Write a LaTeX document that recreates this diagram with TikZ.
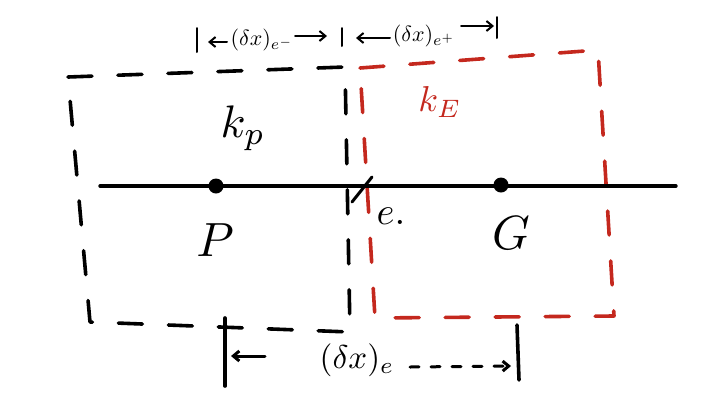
\documentclass[tikz,border=0pt]{standalone}
\usetikzlibrary{arrows.meta}
\definecolor{sketchred}{RGB}{196,40,30}
\begin{document}
\begin{tikzpicture}[x=1pt,y=-1pt,
  ink/.style={line width=3.6pt,line cap=round,line join=round},
  dashbox/.style={ink,dash pattern=on 24pt off 26pt},
  dot/.style={circle,fill=black,inner sep=0pt,minimum size=15pt},
  lbl/.style={inner sep=0pt,scale=4.8},
  dim/.style={inner sep=0pt,scale=2.2},
  arr/.style={ink,line width=2pt,-{Straight Barb[length=6pt,width=10pt]}}]
\useasboundingbox (0,0) rectangle (720,416);
% black control volume of P
\draw[dashbox] (68,77) -- (345,67) -- (350,332) -- (90,322) -- cycle;
% red control volume of E
\draw[dashbox,sketchred] (360,68) -- (598,50) -- (614,316) -- (375,318) -- cycle;
% axis
\coordinate (L) at (100,186);
\coordinate (R) at (676,186);
\draw[ink,line width=3.4pt] (L) -- (R);
\node[dot] (P) at (216,186) {};
\node[dot] (G) at (501,185) {};
% face e marker
\coordinate (f1) at (352,202);
\coordinate (f2) at (372,177);
\draw[ink,line width=3pt] (f1) -- (f2);
% labels
\node[lbl,scale=0.95] (kp) at (243,128) {$k_p$};
\node[lbl,scale=0.75,text=sketchred] (kE) at (440,102) {$k_E$};
\node[lbl] (Plab) at (215,240) {$P$};
\node[lbl] (Glab) at (511,233) {$G$};
\node[lbl,scale=0.8] (elab) at (391,216) {$e.$};
% top dimensions
\coordinate (b1t) at (197,28); \coordinate (b1b) at (197,52);
\coordinate (b2t) at (342,28); \coordinate (b2b) at (342,46);
\coordinate (b3t) at (497,17); \coordinate (b3b) at (497,38);
\draw[ink,line width=2pt] (b1t) -- (b1b);
\draw[ink,line width=2pt] (b2t) -- (b2b);
\draw[ink,line width=2pt] (b3t) -- (b3b);
\node[dim] (dm) at (262,40) {$(\delta x)_{e^-}$};
\node[dim] (dp) at (424,36) {$(\delta x)_{e^+}$};
\coordinate (a1s) at (227,42); \coordinate (a1e) at (208,42);
\coordinate (a2s) at (295,36); \coordinate (a2e) at (327,36);
\coordinate (a3s) at (390,38); \coordinate (a3e) at (356,38);
\coordinate (a4s) at (461,26); \coordinate (a4e) at (494,26);
\draw[arr] (a1s) -- (a1e);
\draw[arr] (a2s) -- (a2e);
\draw[arr] (a3s) -- (a3e);
\draw[arr] (a4s) -- (a4e);
% bottom dimension
\coordinate (c1t) at (225,318); \coordinate (c1b) at (225,386);
\coordinate (c2t) at (517,325); \coordinate (c2b) at (519,380);
\draw[ink] (c1t) -- (c1b);
\draw[ink] (c2t) -- (c2b);
\node[dim,scale=1.5] (de) at (357,360) {$(\delta x)_e$};
\coordinate (d1s) at (265,356); \coordinate (d1e) at (231,356);
\coordinate (d2s) at (410,367); \coordinate (d2e) at (511,366);
\draw[arr,line width=3pt] (d1s) -- (d1e);
\draw[arr,line width=3pt,dash pattern=on 9pt off 12pt] (d2s) -- (d2e);
\end{tikzpicture}
\end{document}
